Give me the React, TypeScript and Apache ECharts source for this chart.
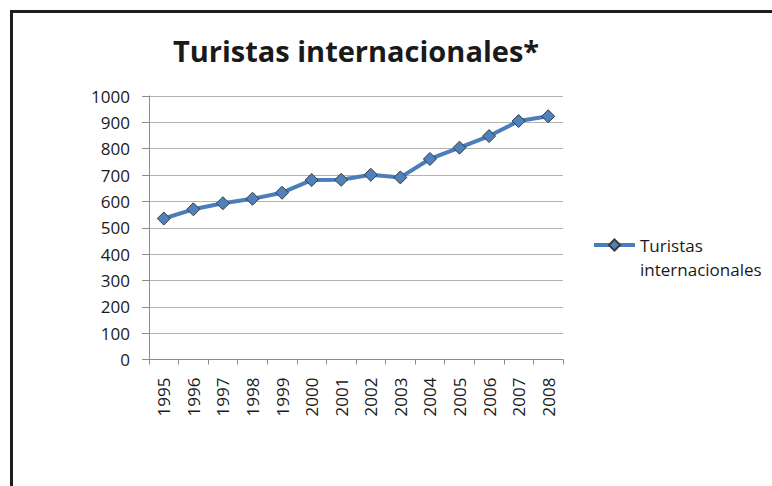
import React, { useEffect, useRef } from "react";
import * as echarts from "echarts";

const years = ["1995", "1996", "1997", "1998", "1999", "2000", "2001", "2002", "2003", "2004", "2005", "2006", "2007", "2008"];
const tourists = [535, 570, 593, 610, 633, 681, 682, 701, 691, 761, 804, 848, 905, 923];
const seriesName = "Turistas internacionales";
const titleText = "Turistas internacionales*";

export default function App() {
  const ref = useRef<HTMLDivElement>(null);
  useEffect(() => {
    document.body.style.margin = "0";
    const chart = echarts.init(ref.current!, null, { renderer: "svg" });
    const font = "'Open Sans', 'Liberation Sans', sans-serif";
    chart.setOption({
      animation: false,
      backgroundColor: "#ffffff",
      title: {
        text: titleText,
        left: 351,
        top: 31,
        textAlign: "center",
        textStyle: { fontFamily: font, fontWeight: "bold", fontSize: 29, color: "#1a1a1a" },
      },
      grid: { left: 149, right: 209, top: 96, bottom: 126.5, containLabel: false },
      legend: {
        left: 592,
        top: 209,
        padding: 0,
        itemWidth: 41,
        itemHeight: 14,
        itemGap: 0,
        formatter: () => "\nTuristas\ninternacionales",
        textStyle: { fontFamily: font, fontSize: 17, color: "#1a1a1a", lineHeight: 24 },
        lineStyle: { width: 4, color: "#4a7ebb" },
        data: [seriesName],
      },
      xAxis: {
        type: "category",
        data: years,
        boundaryGap: true,
        axisLine: { lineStyle: { color: "#8c8c8c", width: 1 } },
        axisTick: { show: true, length: 5, alignWithLabel: false, lineStyle: { color: "#8c8c8c" } },
        axisLabel: { rotate: 90, margin: 18, fontFamily: font, fontSize: 17, color: "#1a1a1a" },
        splitLine: { show: false },
      },
      yAxis: {
        type: "value",
        min: 0,
        max: 1000,
        interval: 100,
        axisLine: { show: true, lineStyle: { color: "#8c8c8c", width: 1 } },
        axisTick: { show: true, length: 7, lineStyle: { color: "#8c8c8c" } },
        axisLabel: {
          margin: 19,
          fontFamily: font,
          fontSize: 17,
          color: "#1a1a1a",
          formatter: (v: number) => String(v),
        },
        splitLine: { show: true, lineStyle: { color: "#b3b3b3", width: 1 } },
      },
      series: [
        {
          name: seriesName,
          type: "line",
          data: tourists,
          symbol: "diamond",
          symbolSize: 13,
          lineStyle: { color: "#4a7ebb", width: 4 },
          itemStyle: { color: "#4f81bd", borderColor: "#3a3a3a", borderWidth: 1 },
        },
      ],
      graphic: [
        {
          type: "rect",
          shape: { x: 11.5, y: 11.5, width: 900, height: 600 },
          style: { fill: "none", stroke: "#1e1e1e", lineWidth: 3 },
          silent: true,
        },
      ],
    });
    return () => chart.dispose();
  }, []);
  return <div ref={ref} style={{ width: 772, height: 486 }} />;
}
